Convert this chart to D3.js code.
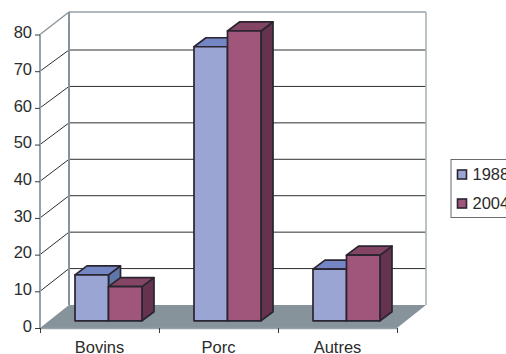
<!DOCTYPE html>
<html>
<head>
<meta charset="utf-8">
<script src="https://cdn.jsdelivr.net/npm/d3@7/dist/d3.min.js"></script>
<style>
html,body{margin:0;padding:0;background:#fff;overflow:hidden}
svg{display:block}
text{font-family:"Liberation Sans",Arial,sans-serif;fill:#2b2b2b}
</style>
</head>
<body>
<script>
const categories = ["Bovins", "Porc", "Autres"];
const years = ["1988", "2004"];
const values1988 = [12.5, 74.7, 14.1];
const values2004 = [9.3, 79, 17.9];
const yTicks = [0, 10, 20, 30, 40, 50, 60, 70, 80];

const palette = {
  "1988": {front: "#9aa5d3", top: "#7486c4", side: "#5f76a8"},
  "2004": {front: "#a0557a", top: "#844565", side: "#66334f"}
};

const W = 506, H = 354;
const svg = d3.select("body").append("svg").attr("width", W).attr("height", H);

const x = d3.scaleBand().domain(categories).range([40, 397]);
const y = d3.scaleLinear().domain([0, 80]).range([328, 34.5]);
// Heights on the back wall, which sits further up the page than the front plane.
const yWall = d3.scaleLinear().domain([0, 70, 80]).range([305, 50, 12]);
const seriesX = d3.scaleBand().domain(years).range([-24.5, 42.5]);

// Oblique projection: the wall sits behind the front plane, bars halfway in.
const wallDx = 29;
const barBase = {dx: 0, dy: -7.2};
const barDepth = {dx: 12, dy: -9};
const poly = pts => pts.map(p => p.join(",")).join(" ");

// Floor
svg.append("polygon")
  .attr("points", poly([[40, y(0)], [397, y(0)], [397 + wallDx, yWall(0)], [40 + wallDx, yWall(0)]]))
  .attr("fill", "#87939a");

// Gridlines on the back wall and the side wall
const grid = svg.append("g");
yTicks.filter(d => d > 0).forEach(d => {
  const stroke = d === 80 ? "#8b959c" : "#2e2e2e";
  const w = d === 80 ? 1.4 : 1;
  grid.append("line")
    .attr("x1", 40).attr("y1", y(d))
    .attr("x2", 40 + wallDx).attr("y2", yWall(d))
    .attr("stroke", stroke).attr("stroke-width", w);
  grid.append("line")
    .attr("x1", 40 + wallDx).attr("y1", yWall(d))
    .attr("x2", 397 + wallDx).attr("y2", yWall(d))
    .attr("stroke", d === 80 ? "#97a1a7" : "#2e2e2e").attr("stroke-width", w);
});

// Wall edges
grid.append("line")
  .attr("x1", 40 + wallDx).attr("y1", yWall(80))
  .attr("x2", 40 + wallDx).attr("y2", yWall(0))
  .attr("stroke", "#87929a").attr("stroke-width", 2);
grid.append("line")
  .attr("x1", 397 + wallDx).attr("y1", yWall(80))
  .attr("x2", 397 + wallDx).attr("y2", yWall(0))
  .attr("stroke", "#a9b3b8").attr("stroke-width", 1.6);
grid.append("line")
  .attr("x1", 40).attr("y1", y(80))
  .attr("x2", 40).attr("y2", y(0))
  .attr("stroke", "#98a3a9").attr("stroke-width", 2);

// Bars
const rows = categories.flatMap((c, i) => [
  {cat: c, year: "1988", value: values1988[i]},
  {cat: c, year: "2004", value: values2004[i]}
]);
const bars = svg.append("g").selectAll("g").data(rows).join("g")
  .attr("stroke", "#2a2530").attr("stroke-width", 1.7).attr("stroke-linejoin", "round");

const geom = d => {
  const x0 = x(d.cat) + x.bandwidth() / 2 + seriesX(d.year);
  const x1 = x0 + seriesX.bandwidth();
  const b = y(0) + barBase.dy;
  const t = y(d.value) + barBase.dy;
  return {x0, x1, b, t};
};
bars.append("polygon").attr("fill", d => palette[d.year].side).attr("points", d => {
  const g = geom(d);
  return poly([[g.x1, g.b], [g.x1, g.t], [g.x1 + barDepth.dx, g.t + barDepth.dy], [g.x1 + barDepth.dx, g.b + barDepth.dy]]);
});
bars.append("polygon").attr("fill", d => palette[d.year].top).attr("points", d => {
  const g = geom(d);
  return poly([[g.x0, g.t], [g.x1, g.t], [g.x1 + barDepth.dx, g.t + barDepth.dy], [g.x0 + barDepth.dx, g.t + barDepth.dy]]);
});
bars.append("rect").attr("fill", d => palette[d.year].front)
  .attr("x", d => geom(d).x0).attr("y", d => geom(d).t)
  .attr("width", seriesX.bandwidth()).attr("height", d => geom(d).b - geom(d).t);

// Axes
const yAxis = d3.axisLeft(y).tickValues(yTicks).tickSize(5).tickPadding(3);
const yG = svg.append("g").attr("transform", "translate(40,0)").call(yAxis);
yG.select(".domain").remove();
yG.selectAll(".tick line").attr("stroke", "#3a3a3a");
yG.selectAll(".tick text").attr("font-size", 16.5).attr("dy", "0.2em").attr("fill", "#2b2b2b")
  .style("font-family", '"Liberation Sans",Arial,sans-serif');

const xAxis = svg.append("g");
xAxis.append("line").attr("x1", 40).attr("x2", 397).attr("y1", y(0) + .5).attr("y2", y(0) + .5)
  .attr("stroke", "#98a3a9").attr("stroke-width", 1.6);
[0, 1, 2, 3].forEach(i => {
  const px = Math.round(40 + i * x.bandwidth());
  xAxis.append("line").attr("x1", px + .5).attr("x2", px + .5).attr("y1", y(0)).attr("y2", y(0) + 5)
    .attr("stroke", "#3a3a3a");
});
xAxis.selectAll("text").data(categories).join("text")
  .attr("x", d => x(d) + x.bandwidth() / 2)
  .attr("y", 352.5)
  .attr("text-anchor", "middle")
  .attr("font-size", 16.5)
  .text(d => d);

// Legend
const legend = svg.append("g");
legend.append("rect").attr("x", 451).attr("y", 159.5).attr("width", 70).attr("height", 58)
  .attr("fill", "#fff").attr("stroke", "#6b6b6b").attr("stroke-width", 1);
years.forEach((yr, i) => {
  const cy = 174.5 + i * 29;
  legend.append("rect").attr("x", 457.5).attr("y", cy - 4.5).attr("width", 9).attr("height", 9)
    .attr("fill", palette[yr].front).attr("stroke", "#2a2530").attr("stroke-width", 1.6);
  legend.append("text").attr("x", 472.5).attr("y", cy + 5.5).attr("font-size", 16.5).text(yr);
});
</script>
</body>
</html>
